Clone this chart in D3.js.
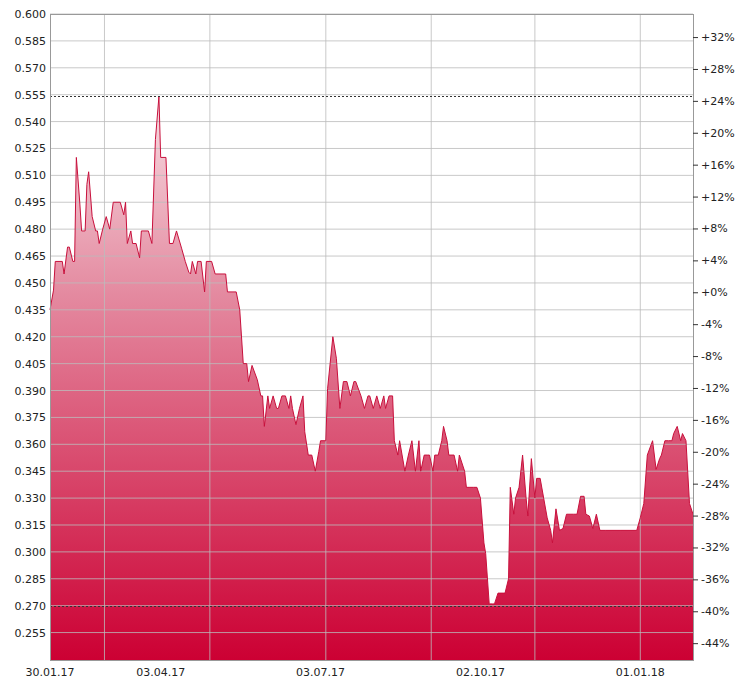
<!DOCTYPE html><html><head><meta charset="utf-8">
<script src="https://cdn.jsdelivr.net/npm/d3@7"></script>
<style>body{margin:0;background:#fff}text{font-family:"DejaVu Sans",sans-serif;font-size:11px;fill:#222}</style>
</head><body><svg id="c" width="750" height="685"></svg><script>
const startDate="2017-01-30";
const days=[0,2,3,7,8,10,11,13,14,15,17,18,20,21,22,24,26,27,28,30,32,34,36,40,42,43,44,46,47,49,51,52,56,58,60,62,63,66,68,70,72,75,77,79,80,81,83,84,86,88,89,92,94,100,101,106,108,110,112,113,115,118,120,121,122,124,125,127,129,130,132,134,136,137,138,140,142,144,145,147,149,151,153,154,157,158,161,163,165,167,169,171,173,174,177,179,181,182,184,186,188,190,191,193,195,196,198,199,202,204,206,208,210,211,213,215,216,218,219,221,223,224,226,227,230,232,233,236,237,239,241,243,245,247,248,250,252,253,255,259,261,262,264,265,267,269,271,272,274,276,277,279,281,283,285,286,288,290,292,294,296,298,300,302,304,305,307,309,311,313,316,325,334,336,338,340,343,345,347,348,350,352,354,355,357,359,360,362,364,366];
const values=[0.435,0.446,0.462,0.462,0.455,0.470,0.470,0.462,0.462,0.520,0.494,0.479,0.479,0.505,0.512,0.487,0.479,0.479,0.472,0.480,0.487,0.480,0.495,0.495,0.488,0.495,0.472,0.479,0.472,0.472,0.464,0.479,0.479,0.472,0.530,0.554,0.520,0.520,0.472,0.472,0.479,0.469,0.462,0.456,0.455,0.462,0.455,0.462,0.462,0.445,0.462,0.462,0.455,0.455,0.445,0.445,0.435,0.405,0.405,0.395,0.404,0.396,0.387,0.387,0.370,0.387,0.380,0.387,0.380,0.380,0.387,0.387,0.380,0.387,0.380,0.371,0.380,0.387,0.367,0.354,0.354,0.345,0.356,0.362,0.362,0.391,0.420,0.408,0.380,0.395,0.395,0.387,0.395,0.395,0.387,0.380,0.387,0.387,0.380,0.387,0.380,0.387,0.380,0.387,0.387,0.362,0.354,0.362,0.345,0.354,0.362,0.345,0.362,0.345,0.354,0.354,0.354,0.345,0.354,0.354,0.362,0.370,0.362,0.354,0.354,0.345,0.354,0.345,0.336,0.336,0.336,0.336,0.330,0.305,0.299,0.271,0.271,0.271,0.277,0.277,0.285,0.336,0.321,0.330,0.336,0.354,0.330,0.320,0.352,0.330,0.341,0.341,0.330,0.319,0.312,0.305,0.324,0.312,0.313,0.321,0.321,0.321,0.321,0.331,0.331,0.321,0.320,0.313,0.321,0.312,0.312,0.312,0.312,0.319,0.327,0.354,0.362,0.346,0.352,0.354,0.362,0.362,0.362,0.366,0.370,0.362,0.366,0.362,0.327,0.321];
const leftTicks=[0.600,0.585,0.570,0.555,0.540,0.525,0.510,0.495,0.480,0.465,0.450,0.435,0.420,0.405,0.390,0.375,0.360,0.345,0.330,0.315,0.300,0.285,0.270,0.255];
const pctTicks=[32,28,24,20,16,12,8,4,0,-4,-8,-12,-16,-20,-24,-28,-32,-36,-40,-44];
const basePrice=0.4448;
const dateLabels=["2017-01-30","2017-04-03","2017-07-03","2017-10-02","2018-01-01"];
const gridDates=["2017-03-02","2017-05-01","2017-07-06","2017-09-04","2017-11-02","2018-01-01"];
const refLines=[0.554,0.270];

const svg=d3.select("#c");
const L=50,R=693,T=14,B=660;
const p=d3.timeParse("%Y-%m-%d");
const t0=p(startDate);
const data=days.map((d,i)=>({d:d3.timeDay.offset(t0,d),v:values[i]}));
const x=d3.scaleTime().domain([t0,d3.timeDay.offset(t0,366)]).range([L,R]);
const y=d3.scaleLinear().domain([0.2397,0.600]).range([B,T]);
const defs=svg.append("defs");
const g=defs.append("linearGradient").attr("id","gr").attr("x1",0).attr("y1",0).attr("x2",0).attr("y2",1).attr("gradientUnits","userSpaceOnUse").attr("y1",y(0.554)).attr("y2",B).attr("x1",0).attr("x2",0);
g.append("stop").attr("offset",0).attr("stop-color","#f7dde3");
g.append("stop").attr("offset",0.35).attr("stop-color","#e48aa0");
g.append("stop").attr("offset",1).attr("stop-color","#cc0033");
svg.append("path").datum(data).attr("fill","url(#gr)").attr("d",d3.area().x(d=>x(d.d)).y0(B).y1(d=>y(d.v)));
// grid
svg.append("g").selectAll("line").data(leftTicks).join("line").attr("x1",L).attr("x2",R).attr("y1",d=>y(d)).attr("y2",d=>y(d)).attr("stroke","#bbb").attr("stroke-opacity",0.8);
svg.append("g").selectAll("line").data(gridDates).join("line").attr("x1",d=>x(p(d))).attr("x2",d=>x(p(d))).attr("y1",T).attr("y2",B).attr("stroke","#bbb").attr("stroke-opacity",0.8);
svg.append("path").datum(data).attr("fill","none").attr("stroke","#c8103c").attr("stroke-width",1).attr("d",d3.line().x(d=>x(d.d)).y(d=>y(d.v)));
svg.append("g").selectAll("line").data(refLines).join("line").attr("x1",L).attr("x2",R).attr("y1",d=>Math.round(y(d))+0.5).attr("y2",d=>Math.round(y(d))+0.5).attr("stroke","#333").attr("stroke-dasharray","2,2");
svg.append("rect").attr("x",L+0.5).attr("y",T+0.5).attr("width",R-L).attr("height",B-T).attr("fill","none").attr("stroke","#999");
// left axis labels
svg.append("g").selectAll("text").data(leftTicks).join("text").attr("x",L-4).attr("y",d=>y(d)+4).attr("text-anchor","end").text(d=>d.toFixed(3));
// right axis
const yr=d3.scaleLinear().domain([0.2397/basePrice-1,0.6/basePrice-1].map(v=>v*100)).range([B,T]);
const ra=svg.append("g").attr("transform",`translate(${R},0)`).call(d3.axisRight(yr).tickValues(pctTicks).tickSize(5).tickPadding(3).tickFormat(d=>(d>=0?"+":"")+d+"%"));
ra.select(".domain").remove();
ra.selectAll("line").attr("stroke","#333");
ra.selectAll("text").style("font-family","DejaVu Sans").style("font-size","11px");
// x labels
svg.append("g").selectAll("text").data(dateLabels).join("text").attr("x",d=>x(p(d))).attr("y",B+16).attr("text-anchor",(d,i)=>i==0?"middle":"middle").text(d=>d3.timeFormat("%d.%m.%y")(p(d)));
</script></body></html>
